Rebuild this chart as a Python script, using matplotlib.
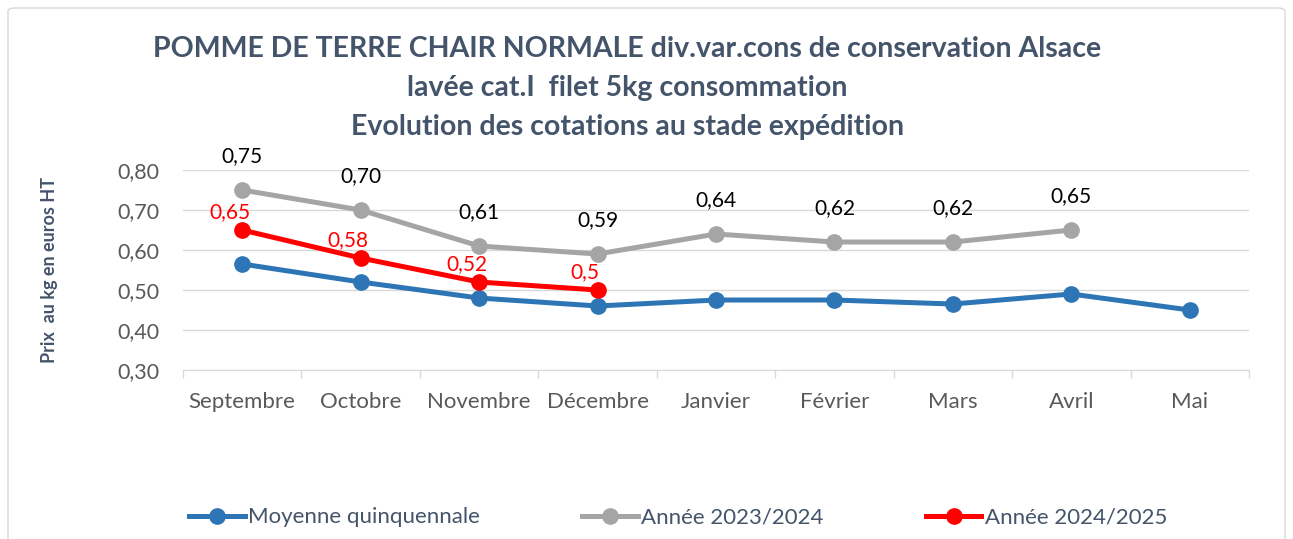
import numpy as np
import matplotlib.pyplot as plt
from matplotlib.patches import FancyBboxPatch

plt.rcParams['font.family'] = ['Lato', 'DejaVu Sans']

# categories and values
mois = ['Septembre', 'Octobre', 'Novembre', 'Décembre', 'Janvier',
        'Février', 'Mars', 'Avril', 'Mai']
moyenne = [0.565, 0.52, 0.48, 0.46, 0.475, 0.475, 0.465, 0.49, 0.45]
annee_2324 = [0.75, 0.70, 0.61, 0.59, 0.64, 0.62, 0.62, 0.65]
annee_2425 = [0.65, 0.58, 0.52, 0.50]
labels_2324 = ['0,75', '0,70', '0,61', '0,59', '0,64', '0,62', '0,62', '0,65']
labels_2425 = ['0,65', '0,58', '0,52', '0,5']

slate = '#44546A'
tickcol = '#595959'

fig = plt.figure(figsize=(12.93, 5.39), dpi=100)
ax = fig.add_axes([0.1415, 0.3135, 0.8245, 0.3711])

# rounded frame around the chart
frame = FancyBboxPatch((8 / 1293, -0.05), 1277 / 1293, 1 - 8 / 539 + 0.05,
                       boxstyle='round,pad=0,rounding_size=0.006',
                       transform=fig.transFigure, fill=False,
                       edgecolor='#D9D9D9', linewidth=1.0, zorder=0)
fig.patches.append(frame)

x = np.arange(len(mois))
ax.plot(x, moyenne, color='#2E75B6', lw=3.6, marker='o', ms=11,
        label='Moyenne quinquennale', zorder=3)
ax.plot(x[:len(annee_2324)], annee_2324, color='#A5A5A5', lw=3.6, marker='o',
        ms=11, label='Année 2023/2024', zorder=3)
ax.plot(x[:len(annee_2425)], annee_2425, color='#FF0000', lw=3.6, marker='o',
        ms=11, label='Année 2024/2025', zorder=4)

for i, (v, t) in enumerate(zip(annee_2324, labels_2324)):
    ax.annotate(t, (i, v), xytext=(0, 17), textcoords='offset points',
                ha='center', va='bottom', fontsize=15, color='black')
for i, (v, t) in enumerate(zip(annee_2425, labels_2425)):
    ax.annotate(t, (i, v), xytext=(-9, 6), textcoords='offset points',
                ha='center', va='bottom', fontsize=15, color='#FF0000')

ax.set_xlim(-0.5, len(mois) - 0.5)
ax.set_ylim(0.30, 0.80)
ax.set_yticks(np.arange(0.30, 0.81, 0.10))
ax.set_yticklabels([('%.2f' % v).replace('.', ',') for v in np.arange(0.30, 0.81, 0.10)])
ax.set_xticks(x)
ax.set_xticklabels(mois)
ax.set_xticks(np.arange(-0.5, len(mois), 1), minor=True)
ax.tick_params(axis='x', which='major', length=0, pad=16, labelsize=16, labelcolor=tickcol)
ax.tick_params(axis='x', which='minor', length=6, color='#D9D9D9', width=1)
ax.tick_params(axis='y', length=0, pad=17, labelsize=15.5, labelcolor=tickcol)

ax.grid(axis='y', color='#D9D9D9', lw=1)
ax.set_axisbelow(True)
for s in ['top', 'right', 'left']:
    ax.spines[s].set_visible(False)
ax.spines['bottom'].set_color('#D9D9D9')

ax.set_ylabel('Prix  au kg en euros HT', fontsize=13, fontweight='bold', color=slate)
ax.yaxis.set_label_coords(-0.117, 0.5)

fig.text(0.485, 0.909, 'POMME DE TERRE CHAIR NORMALE div.var.cons de conservation Alsace',
         ha='center', va='center', fontsize=20.5, fontweight='bold', color=slate)
fig.text(0.485, 0.837, 'lavée cat.I  filet 5kg consommation',
         ha='center', va='center', fontsize=20.5, fontweight='bold', color=slate)
fig.text(0.485, 0.764, 'Evolution des cotations au stade expédition',
         ha='center', va='center', fontsize=20.5, fontweight='bold', color=slate)

leg = fig.legend(loc='center', bbox_to_anchor=(0.5245, 0.04), ncol=3, frameon=False,
                 fontsize=16, handlelength=2.5, handletextpad=0.15, columnspacing=4.6)
for t in leg.get_texts():
    t.set_color(slate)

fig.savefig('out.png', dpi=100)
